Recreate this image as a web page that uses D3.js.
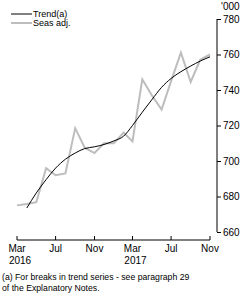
<!DOCTYPE html>
<html>
<head>
<meta charset="utf-8">
<script src="https://cdn.jsdelivr.net/npm/d3@7"></script>
<style>
  body { margin: 0; background: #fff; }
  text { font-family: "Liberation Sans", Arial, sans-serif; fill: #000; }
</style>
</head>
<body>
<div id="chart"></div>
<script>
// monthly, Mar 2016 .. Nov 2017 ('000)
var months = d3.range(21).map(function(i) { return new Date(2016, 2 + i, 1) })
var seasAdj = [675, 675.8, 676.8, 696, 692, 693, 718.5, 707.5, 704.5, 710, 710, 716,
               711, 746, 737, 729, 745, 761, 744.5, 757, 760]
var trend = [null, 673.5, 682, 689.5, 696, 701, 704.5, 707, 708, 709.3, 711.3, 714,
             720, 727.5, 734.5, 741.5, 746.5, 750.3, 753.5, 756.3, 758.7]
var yTicks = [660, 680, 700, 720, 740, 760, 780]
var xTicks = [new Date(2016, 2, 1), new Date(2016, 6, 1), new Date(2016, 10, 1),
              new Date(2017, 2, 1), new Date(2017, 6, 1), new Date(2017, 10, 1)]
var xLabels = [["Mar", "2016"], ["Jul"], ["Nov"], ["Mar", "2017"], ["Jul"], ["Nov"]]

var width = 246, height = 302

var svg = d3.select("#chart")
  .append("svg")
  .attr("width", width)
  .attr("height", height)

var x = d3.scaleTime()
  .domain([months[0], months[months.length - 1]])
  .range([17, 210])

var y = d3.scaleLinear()
  .domain([660, 780])
  .range([232, 19])

// y axis on the right
var yAxis = svg.append("g")
  .attr("transform", "translate(217,0)")
  .call(d3.axisRight(y).tickValues(yTicks).tickSize(4).tickPadding(2))
yAxis.select(".domain").attr("d", "M0," + y(660) + "V" + y(780)).attr("stroke", "#000")
yAxis.selectAll(".tick line").attr("stroke", "#000")
yAxis.selectAll("text")
  .style("font-family", "Liberation Sans, Arial, sans-serif")
  .style("font-size", "10px")

svg.append("text")
  .attr("x", 221)
  .attr("y", 10)
  .style("font-size", "10px")
  .text("'000")

// x axis
var xAxis = svg.append("g")
  .attr("transform", "translate(0,240)")
  .call(d3.axisBottom(x).tickValues(xTicks).tickSize(0).tickFormat(""))
xAxis.select(".domain").attr("d", "M" + x(months[0]) + ",0H" + x(months[20])).attr("stroke", "#000")

svg.append("g")
  .selectAll("line")
  .data(xTicks)
  .enter().append("line")
  .attr("x1", function(d) { return x(d) })
  .attr("x2", function(d) { return x(d) })
  .attr("y1", 240)
  .attr("y2", 236)
  .attr("stroke", "#000")

var lbl = svg.append("g")
  .selectAll("text")
  .data(xTicks)
  .enter().append("text")
  .attr("x", function(d) { return x(d) })
  .attr("y", 252)
  .attr("text-anchor", "middle")
  .style("font-size", "10px")
lbl.append("tspan").text(function(d, i) { return xLabels[i][0] })
lbl.append("tspan")
  .attr("x", function(d) { return x(d) + 3 })
  .attr("dy", 12)
  .text(function(d, i) { return xLabels[i][1] || "" })

// lines
var line = d3.line()
  .defined(function(d) { return d[1] != null })
  .x(function(d) { return x(d[0]) })
  .y(function(d) { return y(d[1]) })

svg.append("path")
  .datum(months.map(function(m, i) { return [m, seasAdj[i]] }))
  .attr("d", line)
  .attr("fill", "none")
  .attr("stroke", "#bdbdbd")
  .attr("stroke-width", 2)

svg.append("path")
  .datum(months.map(function(m, i) { return [m, trend[i]] }))
  .attr("d", line.curve(d3.curveMonotoneX))
  .attr("fill", "none")
  .attr("stroke", "#000")
  .attr("stroke-width", 1)

// legend
var legend = [["Trend(a)", "#000", 1], ["Seas adj.", "#bdbdbd", 2]]
var lg = svg.append("g")
  .selectAll("g")
  .data(legend)
  .enter().append("g")
  .attr("transform", function(d, i) { return "translate(11," + (14 + i * 9) + ")" })
lg.append("line")
  .attr("x1", 0).attr("x2", 21)
  .attr("stroke", function(d) { return d[1] })
  .attr("stroke-width", function(d) { return d[2] })
lg.append("text")
  .attr("x", 22)
  .attr("y", 3)
  .style("font-size", "9px")
  .text(function(d) { return d[0] })

// footnote
svg.append("text")
  .attr("x", 2)
  .attr("y", 280)
  .style("font-size", "8.7px")
  .text("(a) For breaks in trend series - see paragraph 29")
svg.append("text")
  .attr("x", 2)
  .attr("y", 291)
  .style("font-size", "8.7px")
  .text("of the Explanatory Notes.")
</script>
</body>
</html>
